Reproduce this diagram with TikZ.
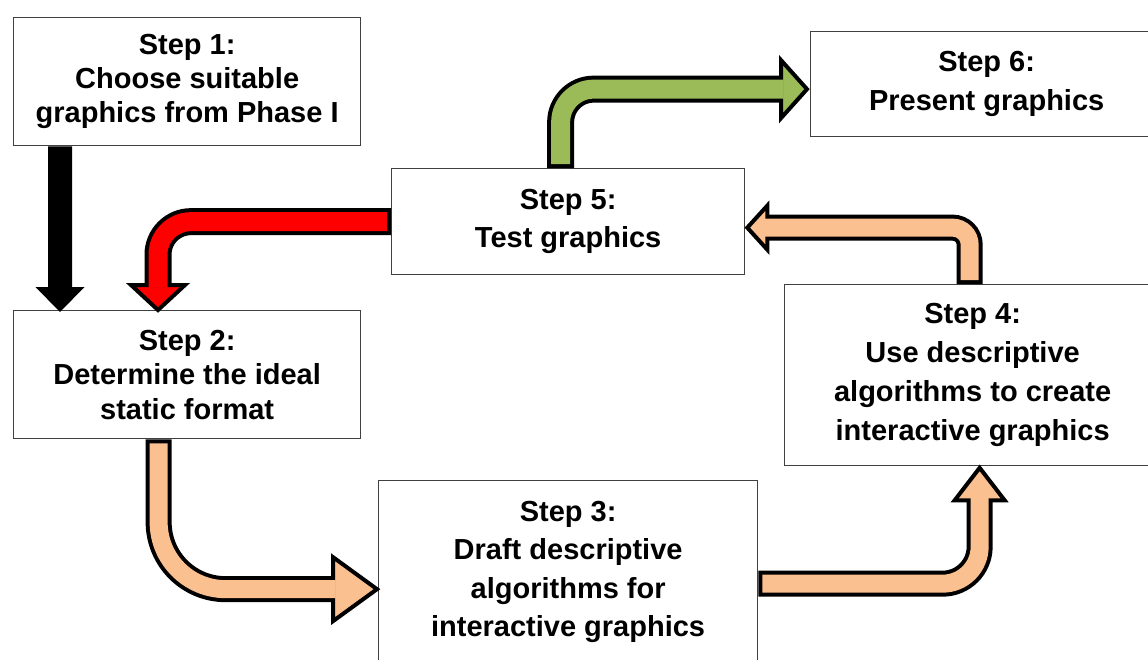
\documentclass[tikz,border=0pt]{standalone}
\usepackage{fontspec}
\setmainfont{Liberation Sans}
\usetikzlibrary{calc}
\definecolor{peach}{HTML}{FAC090}
\definecolor{olive}{HTML}{9BBB59}
\definecolor{boxline}{HTML}{404040}
\begin{document}
\begin{tikzpicture}[x=1pt,y=-1pt,
  stepbox/.style={draw=boxline, line width=1.3pt, fill=white, align=center,
    inner sep=0pt, anchor=north west, font=\bfseries\fontsize{29}{#1}\selectfont},
  shaftout/.style={draw=black, line width=#1, line cap=butt},
  shaftin/.style={draw=#1, line cap=butt},
  arrowhead/.style={fill=#1, draw=black, line width=4pt, line join=miter}]
\useasboundingbox (0,0) rectangle (1148,659);
\clip (0,0) rectangle (1148,659);
% boxes
\node[stepbox=34, minimum width=347pt, minimum height=128pt] (s1) at (13,17)
  {Step 1:\\Choose suitable\\graphics from Phase I};
\node[stepbox=34.5, minimum width=347pt, minimum height=128pt] (s2) at (13,310)
  {Step 2:\\Determine the ideal\\static format};
\node[stepbox=38.5, minimum width=379pt, minimum height=183pt] (s3) at (378,480)
  {Step 3:\\Draft descriptive\\algorithms for\\interactive graphics};
\node[stepbox=39, minimum width=376pt, minimum height=181pt] (s4) at (784,284)
  {Step 4:\\Use descriptive\\algorithms to create\\interactive graphics};
\node[stepbox=38, minimum width=353pt, minimum height=106pt] (s5) at (391,168)
  {Step 5:\\Test graphics};
\node[stepbox=39, minimum width=352pt, minimum height=105pt] (s6) at (810,31)
  {Step 6:\\Present graphics};
% black arrow s1 -> s2
\coordinate (b0) at ($(s1.south west)+(47,0)$);
\coordinate (b1) at ($(s2.north west)+(47,2)$);
\fill[black] ($(b0)+(-12,0)$) -- ($(b1)+(-12,-25)$) -- ($(b1)+(-24.5,-25)$) -- (b1)
  -- ($(b1)+(24.5,-25)$) -- ($(b1)+(12,-25)$) -- ($(b0)+(12,0)$) -- cycle;
% red arrow s5 -> s2
\coordinate (r0) at (s5.west);
\coordinate (rt) at ($(s2.north west)+(145,0)$);
\draw[shaftout=27pt, rounded corners=33pt] (r0) -- (rt |- r0) -- ($(rt)+(0,-25)$);
\filldraw[arrowhead=red] ($(rt)+(-27,-25)$) -- (rt) -- ($(rt)+(27,-25)$) -- cycle;
\draw[shaftin=red, line width=19pt, rounded corners=33pt] ($(r0)+(-4,0)$) -- (rt |- r0) -- ($(rt)+(0,-22.5)$);
% green arrow s5 -> s6
\coordinate (g0) at ($(s5.north)+(-7.5,0)$);
\coordinate (gt) at ($(s6.west)+(-3,5)$);
\draw[shaftout=27pt, rounded corners=33pt] (g0) -- (g0 |- gt) -- ($(gt)+(-26,0)$);
\filldraw[arrowhead=olive] ($(gt)+(-26,-29)$) -- (gt) -- ($(gt)+(-26,29)$) -- cycle;
\draw[shaftin=olive, line width=19pt, rounded corners=33pt] ($(g0)+(0,-4)$) -- (g0 |- gt) -- ($(gt)+(-23.5,0)$);
% peach arrow s2 -> s3
\coordinate (q0) at ($(s2.south)+(-28.5,0)$);
\coordinate (qt) at ($(s3.west)+(-1,17)$);
\draw[shaftout=26pt, rounded corners=67pt] (q0) -- (q0 |- qt) -- ($(qt)+(-44,0)$);
\filldraw[arrowhead=peach] ($(qt)+(-44,-32)$) -- (qt) -- ($(qt)+(-44,32)$) -- cycle;
\draw[shaftin=peach, line width=18pt, rounded corners=67pt] ($(q0)+(0,4)$) -- (q0 |- qt) -- ($(qt)+(-41.5,0)$);
% peach arrow s3 -> s4
\coordinate (u0) at ($(s3.east)+(0,11.5)$);
\coordinate (ut) at ($(s4.south)+(7,1.5)$);
\draw[shaftout=26pt, rounded corners=37pt] (u0) -- (ut |- u0) -- ($(ut)+(0,32.5)$);
\filldraw[arrowhead=peach] ($(ut)+(-25,32.5)$) -- (ut) -- ($(ut)+(25,32.5)$) -- cycle;
\draw[shaftin=peach, line width=18pt, rounded corners=37pt] ($(u0)+(4,0)$) -- (ut |- u0) -- ($(ut)+(0,30)$);
% peach arrow s4 -> s5
\coordinate (p0) at ($(s4.north)+(-3,0)$);
\coordinate (pt) at ($(s5.east)+(2,6)$);
\draw[shaftout=26pt, rounded corners=17pt] (p0) -- (p0 |- pt) -- ($(pt)+(20,0)$);
\filldraw[arrowhead=peach] ($(pt)+(20,-22)$) -- (pt) -- ($(pt)+(20,22)$) -- cycle;
\draw[shaftin=peach, line width=18pt, rounded corners=17pt] ($(p0)+(0,-4)$) -- (p0 |- pt) -- ($(pt)+(17.5,0)$);
\end{tikzpicture}
\end{document}
